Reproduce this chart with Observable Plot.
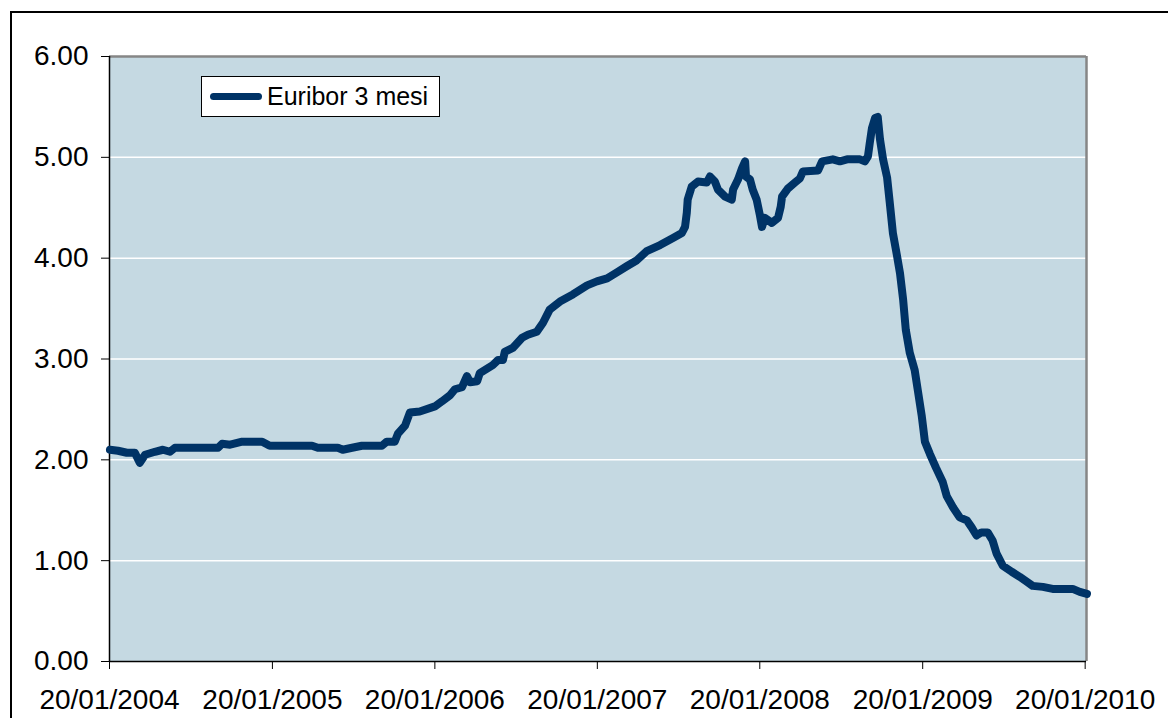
<!DOCTYPE html>
<html>
<head>
<meta charset="utf-8">
<script src="https://cdn.jsdelivr.net/npm/d3@7"></script>
<script src="https://cdn.jsdelivr.net/npm/@observablehq/plot@0.6"></script>
<style>
  html, body { margin: 0; padding: 0; background: #fff; overflow: hidden; }
  #wrap { position: relative; width: 1168px; height: 718px; }
  #outer { position: absolute; left: 10px; top: 11px; width: 1200px; height: 800px; border: 2px solid #000; box-sizing: border-box; }
  #chart { position: absolute; left: 0; top: 0; }
  #legend { position: absolute; left: 201px; top: 76px; width: 239px; height: 41px; box-sizing: border-box;
            border: 1.5px solid #000; background: #fff; font-family: Arial, "Liberation Sans", sans-serif;
            font-size: 25px; display: flex; align-items: center; white-space: nowrap; }
  #legend .sw { width: 52px; height: 7px; border-radius: 3.5px; background: #003366; margin-left: 8px; margin-right: 5px; flex: none; }
</style>
</head>
<body>
<div id="wrap">
  <div id="outer"></div>
  <div id="chart"></div>
  <div id="legend"><span class="sw"></span><span id="legend-label"></span></div>
</div>
<script>
const seriesName = "Euribor 3 mesi";
const dates = [
  "2004-01-21","2004-02-08","2004-02-28","2004-03-17","2004-03-28","2004-04-09","2004-05-01","2004-05-19",
  "2004-06-04","2004-06-15","2004-09-20","2004-09-29","2004-10-17","2004-11-13","2004-12-28","2005-01-14",
  "2005-04-19","2005-05-02","2005-06-16","2005-06-27","2005-07-18","2005-08-09","2005-09-23","2005-10-04",
  "2005-10-22","2005-10-29","2005-11-14","2005-11-25","2005-12-17","2006-01-20","2006-02-05","2006-02-23",
  "2006-03-06","2006-03-22","2006-04-02","2006-04-09","2006-04-25","2006-05-01","2006-05-30","2006-06-11",
  "2006-06-22","2006-06-26","2006-07-14","2006-08-04","2006-08-17","2006-09-06","2006-09-20","2006-10-05",
  "2006-10-28","2006-11-26","2006-12-28","2007-01-19","2007-02-11","2007-03-05","2007-03-27","2007-04-19",
  "2007-05-11","2007-06-10","2007-07-09","2007-07-29","2007-08-05","2007-08-09","2007-08-11","2007-08-20",
  "2007-09-03","2007-09-23","2007-09-30","2007-10-11","2007-10-18","2007-11-03","2007-11-18","2007-11-21",
  "2007-12-02","2007-12-11","2007-12-18","2007-12-20","2007-12-29","2008-01-04","2008-01-13","2008-01-20",
  "2008-01-25","2008-01-31","2008-02-16","2008-03-01","2008-03-07","2008-03-10","2008-03-23","2008-04-08",
  "2008-04-19","2008-04-26","2008-05-30","2008-06-08","2008-07-02","2008-07-18","2008-08-03","2008-09-01",
  "2008-09-12","2008-09-19","2008-09-23","2008-09-28","2008-10-05","2008-10-11","2008-10-16","2008-10-23",
  "2008-11-01","2008-11-07","2008-11-14","2008-11-23","2008-11-30","2008-12-07","2008-12-13","2008-12-22",
  "2009-01-02","2009-01-09","2009-01-18","2009-01-25","2009-02-05","2009-02-19","2009-03-06","2009-03-15",
  "2009-03-29","2009-04-13","2009-04-29","2009-05-10","2009-05-21","2009-06-01","2009-06-15","2009-06-26",
  "2009-07-05","2009-07-19","2009-08-08","2009-08-26","2009-09-11","2009-09-24","2009-10-17","2009-11-08",
  "2009-12-23","2010-01-08","2010-01-24"
];
const values = [
  2.10,2.09,2.07,2.07,1.97,2.05,2.08,2.10,
  2.08,2.12,2.12,2.16,2.15,2.18,2.18,2.14,
  2.14,2.12,2.12,2.10,2.12,2.14,2.14,2.18,
  2.18,2.26,2.34,2.47,2.48,2.53,2.58,2.64,
  2.70,2.72,2.83,2.77,2.78,2.86,2.94,2.99,
  2.99,3.07,3.11,3.21,3.24,3.27,3.36,3.49,
  3.57,3.64,3.73,3.77,3.80,3.86,3.92,3.98,
  4.07,4.13,4.20,4.25,4.31,4.45,4.58,4.71,
  4.76,4.75,4.81,4.76,4.68,4.61,4.58,4.68,
  4.78,4.89,4.96,4.81,4.78,4.68,4.58,4.43,
  4.31,4.40,4.35,4.40,4.51,4.61,4.69,4.75,
  4.79,4.86,4.87,4.96,4.98,4.96,4.98,4.98,
  4.96,5.01,5.14,5.29,5.39,5.40,5.18,4.98,
  4.80,4.55,4.25,4.03,3.85,3.59,3.29,3.06,
  2.89,2.69,2.43,2.18,2.06,1.92,1.78,1.64,
  1.53,1.43,1.40,1.33,1.25,1.28,1.28,1.20,
  1.07,0.95,0.89,0.84,0.79,0.75,0.74,0.72,
  0.72,0.69,0.67
];
const xTickDates = ["2004-01-20","2005-01-20","2006-01-20","2007-01-20","2008-01-20","2009-01-20","2010-01-20"];
const yTicks = [0, 1, 2, 3, 4, 5, 6];
const gridValues = [1, 2, 3, 4, 5];
const xDomain = ["2004-01-20", "2010-01-23"];
const yDomain = [0, 6];

const parse = d3.utcParse("%Y-%m-%d");
const data = dates.map((d, i) => ({date: parse(d), value: values[i]}));
const xTicksParsed = xTickDates.map(parse);
const xDom = xDomain.map(parse);
const fmt = d3.utcFormat("%d/%m/%Y");

document.getElementById("legend-label").textContent = seriesName;

const plot = Plot.plot({
  width: 1168,
  height: 718,
  marginLeft: 109,
  marginRight: 82,
  marginTop: 56,
  marginBottom: 57,
  style: {fontFamily: "Arial, 'Liberation Sans', sans-serif", fontSize: "28px", background: "transparent", color: "#000", overflow: "visible"},
  x: {type: "utc", domain: xDom},
  y: {domain: yDomain},
  marks: [
    Plot.frame({fill: "#C5D9E2", stroke: "none"}),
    Plot.gridY(gridValues, {stroke: "#fff", strokeOpacity: 1, strokeWidth: 1.5}),
    Plot.ruleY([yDomain[1]], {stroke: "#868686", strokeWidth: 2.5}),
    Plot.ruleX([xDom[1]], {stroke: "#868686", strokeWidth: 2.5}),
    Plot.ruleY([yDomain[0]], {stroke: "#000", strokeWidth: 1.5}),
    Plot.ruleX([xDom[0]], {stroke: "#000", strokeWidth: 1.5}),
    Plot.axisY(yTicks, {tickFormat: d3.format(".2f"), tickSize: 8, tickPadding: 13, label: null, stroke: "#000", fill: "#000"}),
    Plot.axisX(xTicksParsed, {tickFormat: fmt, tickSize: 8, tickPadding: 20, label: null, stroke: "#000", fill: "#000"}),
    Plot.line(data, {x: "date", y: "value", stroke: "#003366", strokeWidth: 8, strokeLinejoin: "round", strokeLinecap: "round"})
  ]
});
document.getElementById("chart").appendChild(plot);
</script>
</body>
</html>
